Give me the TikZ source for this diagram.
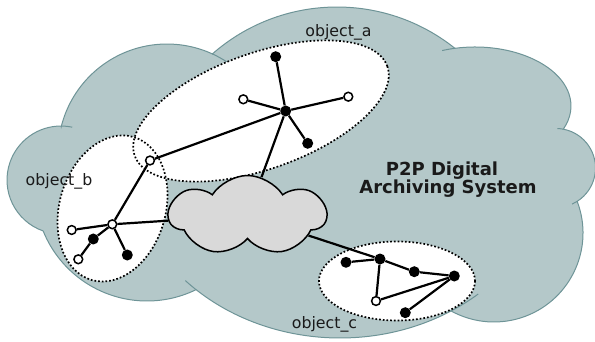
\documentclass[tikz,border=0pt]{standalone}
\usepackage{fontspec}
\setmainfont{DejaVu Sans}
\usepackage{tikz}
\usetikzlibrary{shapes}
\usetikzlibrary{shapes.symbols}
\usetikzlibrary{shapes.geometric}
\definecolor{cloudfill}{HTML}{B4C8C9}
\definecolor{cloudline}{HTML}{6E9497}
\definecolor{netfill}{HTML}{D9D9D9}
\definecolor{ink}{HTML}{1A1A1A}
\tikzstyle{lobe} = [draw=cloudline, line width=1pt]
\tikzstyle{group} = [draw=black, line width=1.7pt, dotted]
\tikzstyle{bpeer} = [circle, fill=black, inner sep=0pt, minimum size=11pt]
\tikzstyle{wpeer} = [circle, draw=black, fill=white, line width=1.5pt, inner sep=0pt, minimum size=8.8pt]
\tikzstyle{link} = [-, draw=black, line width=2.2pt]
\tikzstyle{tag} = [text=ink, inner sep=0pt, anchor=base, font=\fontsize{15.8}{19}\selectfont]

\begin{document}
\begin{tikzpicture}[x=1pt, y=-1pt]
\useasboundingbox (0,0) rectangle (595,342);
% outer cloud
\filldraw [lobe, fill=cloudfill]
  ([shift={(167,153)}]194.3:109) arc [start angle=194.3, end angle=294.6, radius=109]
  -- ([shift={(337,196)}]228.75:189) arc [start angle=228.75, end angle=308.6, radius=189]
  -- ([shift={(475,106)}]258:96 and 59) arc [start angle=258, end angle=383, x radius=96, y radius=59]
  -- ([shift={(556,168)}]280.7:39.5) arc [start angle=280.7, end angle=417.6, radius=39.5]
  -- ([shift={(494,233)}]-20.9:89) arc [start angle=-20.9, end angle=119, radius=89]
  -- ([shift={(340,150)}]59:215 and 188) arc [start angle=59, end angle=132, x radius=215, y radius=188]
  -- ([shift={(147,189)}]64:112) arc [start angle=64, end angle=158, radius=112]
  -- ([shift={(61,180)}]109.2:54) arc [start angle=109.2, end angle=270.4, radius=54]
  -- cycle;
\draw [lobe] ([shift={(61,180)}]270.4:54) arc [start angle=270.4, end angle=282, radius=54];
\draw [lobe] ([shift={(167,153)}]294.6:109) arc [start angle=294.6, end angle=304, radius=109];
\draw [lobe] ([shift={(475,106)}]258:96 and 59) arc [start angle=258, end angle=250, x radius=96, y radius=59];
\draw [lobe] ([shift={(556,168)}]280.7:39.5) arc [start angle=280.7, end angle=272, radius=39.5];
\draw [lobe] ([shift={(556,168)}]57.6:39.5) arc [start angle=57.6, end angle=66, radius=39.5];
\draw [lobe] ([shift={(340,150)}]59:215 and 188) arc [start angle=59, end angle=50, x radius=215, y radius=188];
\draw [lobe] ([shift={(340,150)}]132:215 and 188) arc [start angle=132, end angle=136, x radius=215, y radius=188];

% object groups
\fill [white, rotate around={19.5:(261,111)}] (261,111) ellipse [x radius=134, y radius=58];
\fill [white, rotate around={-16.3:(112.5,208.5)}] (112.5,208.5) ellipse [x radius=53, y radius=74.5];
\fill [white] (397,281) ellipse [x radius=78, y radius=39.5];
\draw [group, rotate around={19.5:(261,111)}] (261,111) ellipse [x radius=134, y radius=58];
\draw [group, rotate around={-16.3:(112.5,208.5)}] (112.5,208.5) ellipse [x radius=53, y radius=74.5];
\draw [group] (397,281) ellipse [x radius=78, y radius=39.5];

\node [tag] (LA) at (338.5, 36.5) {object\_a};
\node [tag] (LB) at (59, 185.7) {object\_b};
\node [tag] (LC) at (324.5, 328) {object\_c};
\node [text=ink, inner sep=0pt, align=center, font=\bfseries\fontsize{18}{17.6}\selectfont] (T) at (448, 179.8) {P2P Digital\kern12pt\\Archiving System};

% network
\node [cloud, cloud puffs=7, cloud puff arc=115, aspect=2, shape border rotate=8, draw=black, fill=netfill, line width=1.5pt, inner sep=0pt, minimum width=157pt, minimum height=80pt] (N) at (247.5, 215.5) {};

\node [bpeer] (A0) at (285.7, 111) {};
\node [bpeer] (A1) at (275.7, 56.7) {};
\node [wpeer] (A2) at (243.3, 99.3) {};
\node [wpeer] (A3) at (348.3, 96.7) {};
\node [bpeer] (A4) at (307.7, 143.3) {};

\node [wpeer] (B0) at (112.3, 224.3) {};
\node [wpeer] (B1) at (150, 160.5) {};
\node [wpeer] (B2) at (71.7, 230) {};
\node [bpeer] (B3) at (93.3, 239) {};
\node [wpeer] (B4) at (78.3, 259.3) {};
\node [bpeer] (B5) at (127.3, 255) {};

\node [bpeer] (C0) at (380, 259) {};
\node [bpeer] (C1) at (346, 262.3) {};
\node [bpeer] (C2) at (414.3, 271.7) {};
\node [bpeer] (C3) at (454.3, 276) {};
\node [wpeer] (C4) at (376, 301) {};
\node [bpeer] (C5) at (405.3, 312.7) {};

\draw [link] (A0) to (A1);
\draw [link] (A0) to (A2);
\draw [link] (A0) to (A3);
\draw [link] (A0) to (A4);
\draw [link] (A0) to (B1);
\draw [link] (A0) to (N);
\draw [link] (B0) to (B1);
\draw [link] (B0) to (B2);
\draw [link] (B0) to (B3);
\draw [link] (B3) to (B4);
\draw [link] (B0) to (B5);
\draw [link] (B0) to (N);
\draw [link] (N) to (C0);
\draw [link] (C0) to (C1);
\draw [link] (C0) to (C2);
\draw [link] (C2) to (C3);
\draw [link] (C0) to (C4);
\draw [link] (C4) to (C3);
\draw [link] (C3) to (C5);
\end{tikzpicture}
\end{document}
